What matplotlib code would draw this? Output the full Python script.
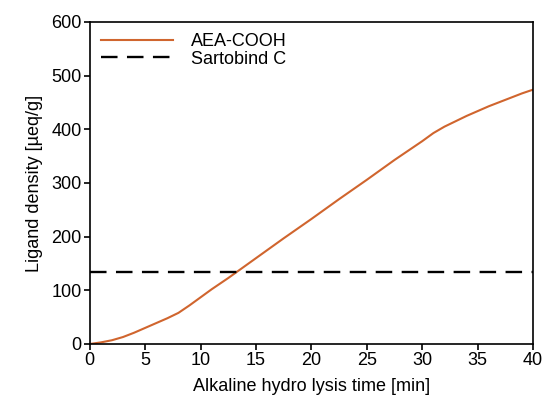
import matplotlib
matplotlib.use('Agg')
import matplotlib.pyplot as plt

plt.rcParams['font.family'] = ['Liberation Sans', 'DejaVu Sans']

# values
time_min = [0, 1, 2, 3, 4, 5, 6, 7, 8, 9, 10, 11, 12.5, 15, 17.5, 20, 22.5, 25,
            27.5, 30, 31, 32, 33, 34, 35, 36, 37, 38, 39, 40]
aea_cooh = [0, 3, 7, 13, 21, 30, 39, 48, 58, 72, 87, 102, 123, 160, 197, 233, 270,
            306, 343, 378, 393, 405, 415, 425, 434, 443, 451, 459, 467, 474]
sartobind_c = 135

fig, ax = plt.subplots(figsize=(5.44, 4.0), dpi=100)
ax.plot(time_min, aea_cooh, color='#d0652e', lw=1.5, label='AEA-COOH')
ax.axhline(sartobind_c, color='black', lw=1.7, ls=(0, (7, 4)), label='Sartobind C')

ax.set_xlim(0, 40)
ax.set_ylim(0, 600)
ax.set_xticks(range(0, 41, 5))
ax.set_yticks(range(0, 601, 100))
ax.tick_params(labelsize=13, direction='out', length=4, width=1.2, pad=2)
for s in ax.spines.values():
    s.set_linewidth(1.2)
ax.set_xlabel('Alkaline hydro lysis time [min]', fontsize=13, labelpad=6)
ax.set_ylabel('Ligand density [µeq/g]', fontsize=13, labelpad=6)
ax.legend(loc='upper left', frameon=False, fontsize=13, handlelength=4.0,
          borderaxespad=0.2, labelspacing=0.05, handletextpad=1.0)

fig.subplots_adjust(left=0.165, right=0.98, top=0.945, bottom=0.14)
fig.savefig('out.png', dpi=100)
